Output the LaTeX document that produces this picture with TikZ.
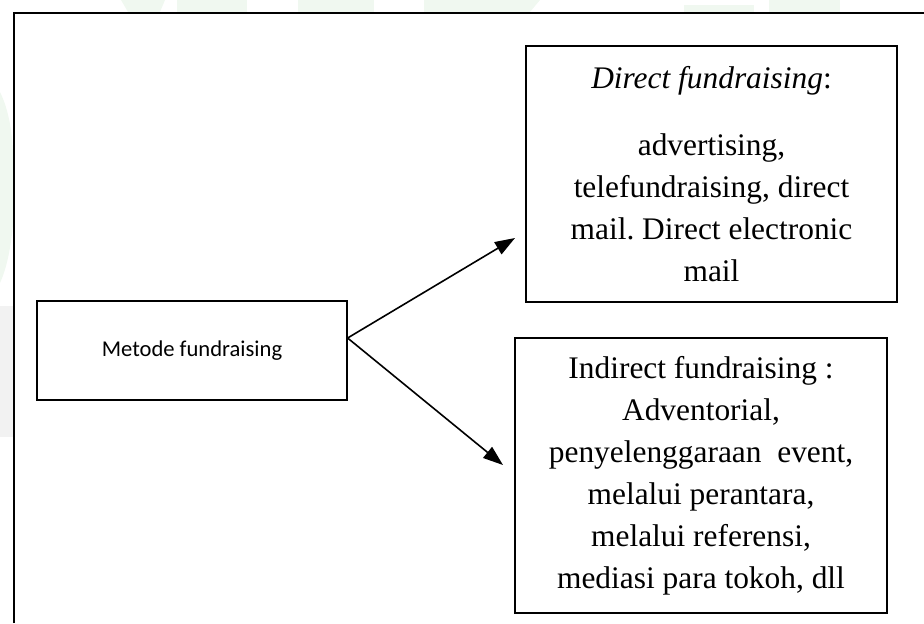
\documentclass[tikz,border=0pt]{standalone}
\usepackage{fontspec}
\setmainfont{Liberation Serif}
\newfontfamily\calibri{Carlito}
\usepackage{tikz}
\usetikzlibrary{arrows.meta}
\definecolor{wmgreen}{RGB}{240,248,240}
\definecolor{wmgray}{RGB}{242,242,242}
\frenchspacing

\begin{document}
\begin{tikzpicture}[x=0.5pt, y=-0.5pt,
  box/.style={draw, line width=1pt, inner sep=0pt, align=center,
              font=\fontsize{15.7}{21}\selectfont},
  link/.style={line width=0.8pt, -{Triangle[length=10pt, width=7pt]}}
]
\useasboundingbox (0,0) rectangle (924,623);
% faint watermark outside the frame
\fill[wmgreen] (121,0) -- (165,0) -- (160,12) -- (128,12) -- cycle;
\fill[wmgreen] (177,0) rectangle (247,12);
\fill[wmgreen] (298,0) rectangle (374,12);
\fill[wmgreen] (424,0) -- (540,0) -- (530,12) -- (424,12) -- cycle;
\fill[wmgreen] (684,5) rectangle (754,12);
\fill[wmgreen] (769,0) rectangle (840,12);
\fill[wmgreen] (0,92) .. controls (9,110) and (13,135) .. (13,160) -- (13,225)
  .. controls (10,255) and (5,272) .. (0,283) -- cycle;
\fill[wmgray] (0,306) rectangle (13,437);
% frame
\draw[line width=1pt] (13.5,623) -- (13.5,12.5) -- (924,12.5);

\node[box, line width=0.6pt, minimum width=155pt, minimum height=49.5pt,
      font=\calibri\fontsize{11.3}{14}\selectfont] (metode) at (192,350.5) {Metode fundraising};
\node[box, minimum width=185.5pt, minimum height=128pt] (direct) at (711.5,174)
  {\textit{Direct fundraising}:\\[12.75pt]
   advertising,\\ telefundraising, direct\\ mail. Direct electronic\\ mail};
\node[box, minimum width=186pt, minimum height=137.5pt] (indirect) at (701,475.5)
  {Indirect fundraising :\\ Adventorial,\\ penyelenggaraan\ \ event,\\
   melalui perantara,\\ melalui referensi,\\ mediasi para tokoh, dll};

\coordinate (tipA) at (515,238);
\coordinate (tipB) at (503,465);
\draw[link] ([yshift=6.25pt]metode.east) -- (tipA);
\draw[link] ([yshift=6.25pt]metode.east) -- (tipB);
\end{tikzpicture}
\end{document}
